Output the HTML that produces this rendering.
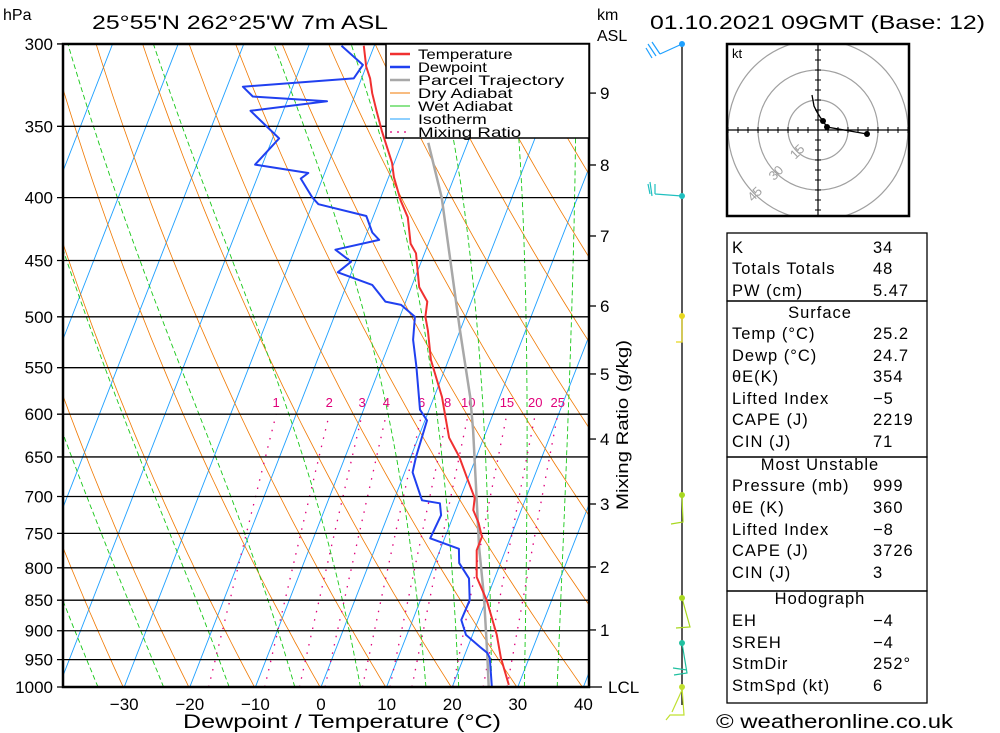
<!DOCTYPE html>
<html><head><meta charset="utf-8"><style>
html,body{margin:0;padding:0;background:#fff;}
svg{display:block;font-family:"Liberation Sans",sans-serif;}
</style></head><body>
<svg id="chart" width="1000" height="733" viewBox="0 0 1000 733" xmlns="http://www.w3.org/2000/svg">
<defs><clipPath id="plotclip"><rect x="63" y="44" width="526" height="643"/></clipPath></defs>
<g id="header" font-size="19" fill="#000">
<text x="3" y="20" font-size="16">hPa</text>
<text x="92" y="29" textLength="296" lengthAdjust="spacingAndGlyphs">25°55'N 262°25'W 7m ASL</text>
<text x="597" y="20" font-size="16">km</text>
<text x="597" y="41" font-size="16">ASL</text>
<text x="650" y="29" textLength="335" lengthAdjust="spacingAndGlyphs">01.10.2021 09GMT (Base: 12)</text>
</g>
<g id="bg" clip-path="url(#plotclip)"></g>
<g id="isobars"></g>
<g id="series" clip-path="url(#plotclip)"></g>
<rect x="63" y="44" width="526" height="643" fill="none" stroke="#000" stroke-width="2.5"/>
<g id="legend">
<rect x="386" y="44" width="203" height="94" fill="#fff" stroke="#000" stroke-width="1.5"/>
</g>
<g id="axes" font-size="17"></g>
<text x="342" y="728" text-anchor="middle" font-size="19" textLength="318" lengthAdjust="spacingAndGlyphs">Dewpoint / Temperature (°C)</text>
<text x="628" y="425" font-size="17" transform="rotate(-90 628 425)" text-anchor="middle" textLength="170" lengthAdjust="spacingAndGlyphs">Mixing Ratio (g/kg)</text>
<g id="wind"></g>
<g id="hodo"></g>
<g id="table" font-size="16.5" letter-spacing="1"></g>
<text x="716" y="728" font-size="19" textLength="237" lengthAdjust="spacingAndGlyphs">© weatheronline.co.uk</text>
</svg>
<script>
const tempP=[996,947,907,850,814,774,755,736,718,702,679,650,627,599,581,542,513,500,486,473,444,436,415,402,385,375,353,340,329,320,313,301];
const tempT=[28.5,25.7,23.7,20.1,17.2,15.6,15.6,14.3,12.7,12.2,10.1,7.4,4.7,2.6,1.2,-2.7,-4.9,-6.1,-6.7,-8.8,-11.3,-12.7,-14.7,-16.8,-19.2,-20.3,-23.8,-25.8,-27.5,-28.7,-30.0,-31.6];
const dewP=[1004,947,938,928,907,882,850,816,793,772,757,725,709,705,669,650,607,595,549,522,500,489,486,471,460,451,441,433,427,414,405,400,386,382,376,358,340,334,331,325,320,312,301];
const dewT=[26.2,24.0,23.3,21.9,19.0,17.4,17.5,16.1,13.7,12.8,7.8,8.1,7.2,4.3,1.2,0.8,0.3,-1.4,-4.5,-6.6,-7.7,-10.5,-13.1,-16.1,-22.1,-20.7,-23.8,-17.7,-19.2,-21.1,-29.1,-30.4,-33.3,-32.5,-41.1,-39.0,-45.0,-33.9,-45.5,-47.6,-31.2,-30.6,-35.0];
const parcelP=[1004,938,845,770,618,581,513,400,361];
const parcelT=[25.7,23.3,19.5,15.8,7.9,5.5,0.0,-10.7,-16.0];
const pressureTicks=[300,350,400,450,500,550,600,650,700,750,800,850,900,950,1000];
const tempTicks=[-30,-20,-10,0,10,20,30,40];
const kmTicks=[1,2,3,4,5,6,7,8,9];
const kmPressures=[898.7,798.7,709.9,628.6,556.5,490.0,429.8,376.3,328.9];
const mixRatios=[1,2,3,4,6,8,10,15,20,25];
const wetThetas=[-34,-24,-14,-4,6,16,21,26,31,36];
const hodoU=[24.5,4.5,2.5,1.0,-0.5,-2.0,-3.0];
const hodoV=[-2.0,1.5,4.5,6.5,9.0,12.0,17.5];
const tableLabels=["K","Totals Totals","PW (cm)","Temp (°C)","Dewp (°C)","θE(K)","Lifted Index","CAPE (J)","CIN (J)","Pressure (mb)","θE (K)","Lifted Index","CAPE (J)","CIN (J)","EH","SREH","StmDir","StmSpd (kt)"];
const tableValues=["34","48","5.47","25.2","24.7","354","−5","2219","71","999","360","−8","3726","3","−4","−4","252°","6"];
const tableRows=[253,274,296,339,361,382,404,425,447,491,513,535,556,578,626,648,669,691];

const NS="http://www.w3.org/2000/svg";
function yP(p){return 687-534.1*Math.log(1000/p);}
function xT(T,p){return 321+6.56*T+0.39*(687-yP(p));}
function mk(tag,attrs,parent){const e=document.createElementNS(NS,tag);for(const k in attrs)e.setAttribute(k,attrs[k]);parent.appendChild(e);return e;}
function pathFrom(pts){return pts.map((q,i)=>(i?'L':'M')+q[0].toFixed(1)+' '+q[1].toFixed(1)).join(' ');}
const bg=document.getElementById('bg');
for(let T=-120;T<=40;T+=10){
  const e=mk('line',{x1:xT(T,1000),y1:yP(1000),x2:xT(T,300),y2:yP(300),stroke:'#1ea0ff','stroke-width':0.9},bg);
  
  
}
for(let th=193;th<=473;th+=10){
  const pts=[];for(let p=1000;p>=300;p-=10){const T=th*Math.pow(p/1000,0.2857)-273.15;pts.push([xT(T,p),yP(p)]);}
  const e=mk('path',{d:pathFrom(pts),fill:'none',stroke:'#f07800','stroke-width':0.8},bg);
  
  
}
function es(T){return 6.112*Math.exp(17.67*T/(T+243.5));}
for(const tw of wetThetas){
  let T=tw+273.15;const pts=[[xT(tw,1000),yP(1000)]];
  for(let p=1000;p>300;p-=5){
    const e_=es(T-273.15),rs=0.622*e_/(p-e_);
    const dTdp=(287*T+2.5e6*rs)/(1004+2.5e6*2.5e6*rs*0.622/(287*T*T))/p;
    T-=dTdp*5;pts.push([xT(T-273.15,p-5),yP(p-5)]);
  }
  const e=mk('path',{d:pathFrom(pts),fill:'none',stroke:'#18c818','stroke-width':0.9,'stroke-dasharray':'5 3'},bg);
  
  
}
for(const w of mixRatios){
  const pts=[];for(let p=1000;p>=600;p-=10){const e_=w*p/(622+w);const l=Math.log(e_/6.112);const T=243.5*l/(17.67-l);pts.push([xT(T,p),yP(p)]);}
  const e=mk('path',{d:pathFrom(pts),fill:'none',stroke:'#e0007a','stroke-width':1.3,'stroke-dasharray':'1.5 7'},bg);
  
  
  const e_=w*600/(622+w),l=Math.log(e_/6.112),T=243.5*l/(17.67-l);
  const t=mk('text',{x:xT(T,600),y:407,'font-size':13,fill:'#e0007a','text-anchor':'middle'},bg);
  t.textContent=w;
  
  
}
const iso=document.getElementById('isobars');const axes=document.getElementById('axes');
for(const p of pressureTicks){
  const y=yP(p);
  const l=mk('line',{x1:57,y1:y,x2:589,y2:y,stroke:'#000','stroke-width':1.3},iso);
  
  
  const t=mk('text',{x:53,y:y+6,'text-anchor':'end'},axes);t.textContent=p;
  
  
}
for(const T of tempTicks){
  const t=mk('text',{x:xT(T,1000),y:710,'text-anchor':'middle'},axes);t.textContent=(T<0?'−':'')+Math.abs(T);
  
  
}
kmTicks.forEach((k,i)=>{
  const y=yP(kmPressures[i]);
  const l=mk('line',{x1:589,y1:y,x2:596,y2:y,stroke:'#000','stroke-width':1.3},axes);
  
  
  const t=mk('text',{x:600,y:y+6},axes);t.textContent=k;
  
  
});
{const l=mk('line',{x1:589,y1:687,x2:602,y2:687,stroke:'#000','stroke-width':1.3},axes);


const t=mk('text',{x:608,y:693},axes);t.textContent='LCL';

}
const ser=document.getElementById('series');
function drawSeries(P,T,color,w,name){
  const pts=P.map((p,i)=>[xT(T[i],p),yP(p)]);
  const e=mk('path',{d:pathFrom(pts),fill:'none',stroke:color,'stroke-width':w,'stroke-linejoin':'round'},ser);
  
  
}
drawSeries(parcelP,parcelT,'#a8a8a8',2.5,'parcel-trajectory-line');
drawSeries(tempP,tempT,'#f03030',2,'temperature-line');
drawSeries(dewP,dewT,'#2040f0',2,'dewpoint-line');
const leg=document.getElementById('legend');
const legItems=[['Temperature','#f03030',2.5,''],['Dewpoint','#2040f0',2.5,''],['Parcel Trajectory','#a8a8a8',2.5,''],['Dry Adiabat','#f07800',1,''],['Wet Adiabat','#18c818',1,''],['Isotherm','#1ea0ff',1,''],['Mixing Ratio','#e0007a',1.3,'2 5']];
legItems.forEach((it,i)=>{
  const y=54+i*13;
  const l=mk('line',{x1:390,y1:y,x2:410,y2:y,stroke:it[1],'stroke-width':it[2]},leg);
  if(it[3])l.setAttribute('stroke-dasharray',it[3]);
  
  
  const t=mk('text',{x:418,y:y+5,'font-size':14,textLength:it[0].length*8.6,lengthAdjust:'spacingAndGlyphs'},leg);t.textContent=it[0];
  
  
});
const wind=document.getElementById('wind');
{const l=mk('line',{x1:682,y1:44,x2:682,y2:705,stroke:'#000','stroke-width':1.3},wind);

}
const barbs=[[44,'#1ea0ff','M682 44 L660 54 M660 54 L652 42 M656 56 L648 44 M652 58 L646 48'],[196,'#20c0c0','M682 196 L655 194 M655 194 L655 184 M652 196 L650 182 M650 194 L648 184'],[316,'#e8d820','M682 316 L682 342 L676 342'],[495,'#a8d820','M682 495 L683 522 L671 524'],[598,'#a8d820','M682 598 L690 627 L676 628'],[643,'#20c0a0','M682 643 L687 673 L674 675 M687 670 L673 668'],[687,'#c0e030','M682 687 L684 715 L670 715 L666 720 M682 690 L672 712']];
for(const b of barbs){
  const c=mk('circle',{cx:682,cy:b[0],r:3,fill:b[1]},wind);
  
  
  const p=mk('path',{d:b[2],fill:'none',stroke:b[1],'stroke-width':1.2},wind);
  
  
}
const hodo=document.getElementById('hodo');const cx=818,cy=130,k=2;
const hc=mk('clipPath',{id:'hclip'},hodo);mk('rect',{x:727,y:44,width:182,height:172},hc);
const hg=mk('g',{'clip-path':'url(#hclip)'},hodo);
[15,30,45].forEach(r=>{const c=mk('circle',{cx:cx,cy:cy,r:r*k,fill:'none',stroke:'#a0a0a0','stroke-width':1.2},hg);

});
mk('line',{x1:727,y1:cy,x2:909,y2:cy,stroke:'#000','stroke-width':1.2},hg);
mk('line',{x1:cx,y1:44,x2:cx,y2:216,stroke:'#000','stroke-width':1.2},hg);
for(let d=-90;d<=90;d+=10){if(!d)continue;mk('line',{x1:cx+d,y1:cy-3,x2:cx+d,y2:cy+3,stroke:'#000'},hg);mk('line',{x1:cx-3,y1:cy+d,x2:cx+3,y2:cy+d,stroke:'#000'},hg);}
[['15',-15],['30',-30],['45',-45]].forEach(([s,r])=>{const a=r*k*0.707;const t=mk('text',{x:cx+a,y:cy-a+5,'font-size':13,fill:'#a0a0a0','text-anchor':'middle',transform:`rotate(-45 ${cx+a} ${cy-a})`},hg);t.textContent=s;

});
{const pts=hodoU.map((u,i)=>[cx+u*k,cy-hodoV[i]*k]);
const e=mk('path',{d:pathFrom(pts),fill:'none',stroke:'#000','stroke-width':1.3},hg);


for(let i=0;i<3;i++){const c=mk('circle',{cx:pts[i][0],cy:pts[i][1],r:3,fill:'#000'},hg);

}}
{const r=mk('rect',{x:727,y:44,width:182,height:172,fill:'none',stroke:'#000','stroke-width':2.5},hodo);


const t=mk('text',{x:732,y:58,'font-size':13},hodo);t.textContent='kt';

}
const tb=document.getElementById('table');
[[233,301],[301,457],[457,591],[591,703]].forEach(b=>{const r=mk('rect',{x:727,y:b[0],width:200,height:b[1]-b[0],fill:'none',stroke:'#000','stroke-width':1.3},tb);

});
[['Surface',318],['Most Unstable',470],['Hodograph',604]].forEach(h=>{const t=mk('text',{x:820,y:h[1],'text-anchor':'middle'},tb);t.textContent=h[0];

});
tableLabels.forEach((lab,i)=>{
  const t=mk('text',{x:732,y:tableRows[i]},tb);t.textContent=lab;
  
  
  const v=mk('text',{x:873,y:tableRows[i]},tb);v.textContent=tableValues[i];
  
  
});
</script>
</body></html>
